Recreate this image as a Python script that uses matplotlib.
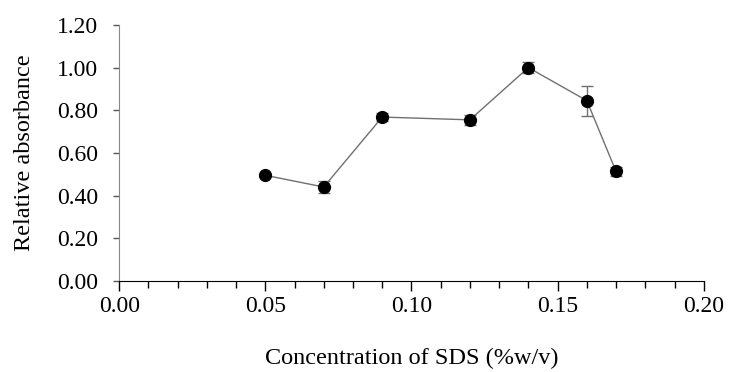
import matplotlib
matplotlib.use("Agg")
import matplotlib.pyplot as plt
import numpy as np

# SDS concentration vs relative absorbance
sds_conc = [0.05, 0.07, 0.09, 0.12, 0.14, 0.16, 0.17]
rel_abs = [0.495, 0.440, 0.768, 0.755, 1.000, 0.845, 0.513]
rel_err = [0.008, 0.030, 0.020, 0.022, 0.025, 0.070, 0.022]

plt.rcParams['font.family'] = ['Liberation Serif', 'DejaVu Serif']

fig = plt.figure(figsize=(7.4, 3.72), dpi=100)
ax = fig.add_axes([0.161, 0.245, 0.790, 0.688])

ax.errorbar(sds_conc, rel_abs, yerr=rel_err, color='#707070', lw=1.0,
            elinewidth=1.0, capsize=4, capthick=1.0, zorder=2)
ax.plot(sds_conc, rel_abs, linestyle='none', marker='o', ms=8.5,
        color='black', zorder=3)

ax.set_xlim(0, 0.20)
ax.set_ylim(0, 1.20)
ax.set_xticks(np.arange(0, 0.201, 0.05))
ax.set_xticks(np.arange(0, 0.201, 0.01), minor=True)
ax.set_yticks(np.arange(0, 1.201, 0.2))
ax.set_xticklabels(["%.2f" % v for v in np.arange(0, 0.201, 0.05)])
ax.set_yticklabels(["%.2f" % v for v in np.arange(0, 1.201, 0.2)])

for s in ['top', 'right']:
    ax.spines[s].set_visible(False)
ax.spines['left'].set_color('#888888')
ax.spines['bottom'].set_color('black')

ax.tick_params(axis='x', which='major', length=7, width=1, direction='out',
               labelsize=17, pad=4)
ax.tick_params(axis='x', which='minor', length=5, width=1, direction='out')
ax.tick_params(axis='y', which='major', length=4, width=1, direction='out',
               labelsize=17, pad=11, color='#555555')

ax.set_xlabel("Concentration of SDS (%w/v)", fontsize=17.5, labelpad=22)
ax.set_ylabel("Relative absorbance", fontsize=17.5, labelpad=16)

fig.savefig("out.png", dpi=100)
